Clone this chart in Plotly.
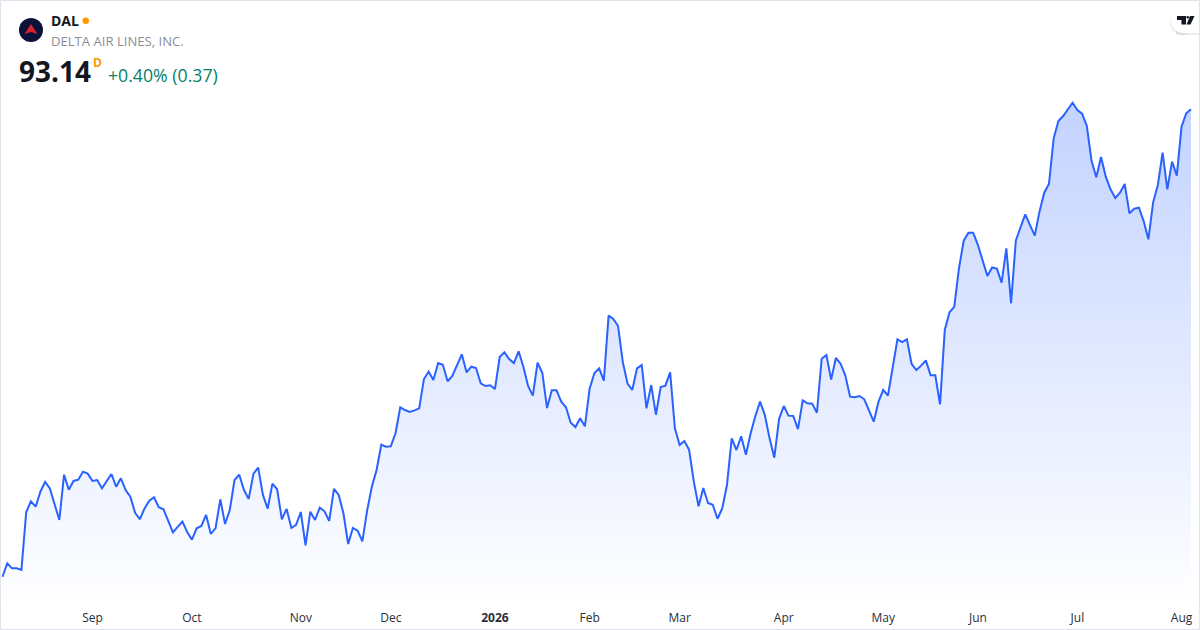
import plotly.graph_objects as go

# daily closes
close = [
    53.41, 54.55, 54.12, 54.12, 53.98, 58.88, 59.82, 59.36, 60.64, 61.46,
    60.92, 59.51, 58.23, 62.08, 60.81, 61.55, 61.66, 62.34, 62.17, 61.55,
    61.63, 60.92, 61.57, 62.14, 61.06, 61.77, 60.78, 60.21, 58.85, 58.29,
    59.22, 59.87, 60.16, 59.31, 59.14, 58.15, 57.18, 57.64, 58.09, 57.21,
    56.56, 57.52, 57.72, 58.66, 57.04, 57.55, 59.99, 57.89, 59.08, 61.63,
    62.08, 60.78, 60.02, 62.17, 62.68, 60.36, 59.19, 61.32, 60.84, 58.29,
    59.17, 57.55, 57.81, 58.91, 56.08, 58.94, 58.23, 59.28, 58.97, 58.15,
    60.87, 60.36, 58.80, 56.19, 57.55, 57.32, 56.42, 59.02, 61.06, 62.48,
    64.63, 64.46, 64.49, 65.60, 67.81, 67.58, 67.41, 67.55, 67.72, 70.21,
    70.84, 70.13, 71.57, 71.43, 70.02, 70.47, 71.35, 72.31, 70.78, 71.26,
    71.15, 69.85, 69.62, 69.68, 69.36, 72.08, 72.48, 71.91, 71.57, 72.57,
    71.26, 69.62, 68.80, 71.60, 70.75, 67.75, 69.25, 69.25, 68.29, 67.81,
    66.50, 66.13, 66.87, 66.19, 69.42, 70.70, 71.12, 70.07, 75.60, 75.31,
    74.72, 71.66, 69.82, 69.28, 71.12, 71.40, 67.72, 69.70, 67.18, 69.53,
    69.65, 70.78, 66.02, 64.60, 64.94, 64.21, 61.49, 59.39, 60.95, 59.67,
    59.53, 58.34, 59.22, 61.20, 65.17, 64.18, 65.34, 63.78, 65.60, 67.07,
    68.29, 67.15, 65.17, 63.53, 66.81, 67.92, 67.10, 67.07, 65.96, 68.40,
    68.15, 68.12, 67.35, 71.94, 72.25, 70.16, 72.00, 71.52, 70.50, 68.71,
    68.66, 68.77, 68.49, 67.58, 66.59, 68.29, 69.28, 68.80, 71.12, 73.59,
    73.36, 73.59, 71.49, 70.98, 71.35, 71.80, 70.53, 70.53, 68.06, 74.38,
    75.89, 76.35, 79.63, 81.97, 82.65, 82.65, 81.60, 80.19, 78.97, 79.69,
    79.59, 78.40, 81.32, 76.65, 81.97, 83.11, 84.21, 83.30, 82.40, 84.44,
    86.05, 86.79, 90.67, 92.14, 92.57, 93.14, 93.70, 93.08, 92.77, 91.72,
    88.74, 87.36, 89.08, 87.41, 86.34, 85.60, 86.05, 86.79, 84.30, 84.69,
    84.78, 83.64, 82.09, 85.23, 86.70, 89.45, 86.34, 88.69, 87.50, 91.66,
    92.80, 93.14,
]
session = list(range(len(close)))

tick_session = [19, 40, 63, 82, 104, 124, 143, 165, 186, 206, 227, 249]
tick_label = ["Sep", "Oct", "Nov", "Dec", "<b>2026</b>", "Feb", "Mar", "Apr", "May", "Jun", "Jul", "Aug"]

LINE = "#2962ff"
FONT = "Open Sans"

fig = go.Figure()
fig.add_trace(go.Scatter(
    x=session, y=close, mode="lines",
    line=dict(color=LINE, width=2, shape="linear"),
    fill="tozeroy",
    fillgradient=dict(
        type="vertical", start=93.7, stop=50.75,
        colorscale=[[0, "rgba(41,98,255,0.28)"], [1, "rgba(41,98,255,0)"]],
    ),
    hoverinfo="skip",
))

fig.update_xaxes(
    range=[-0.528, 252.9], tickmode="array", tickvals=tick_session, ticktext=tick_label,
    showgrid=False, zeroline=False, showline=False, ticks="", ticklabelstandoff=1,
    tickfont=dict(family=FONT, size=12, color="#2a2e39"),
)
fig.update_yaxes(range=[50.75, 102.43], showgrid=False, zeroline=False, showline=False, showticklabels=False)


# paper coordinates run over the plot area only, which stops 22px above the page bottom
def px_x(v):
    return v / 1200


def px_y(v):
    return 1 - v / 608


def paper_text(x, y, text, size, color, anchor="left"):
    fig.add_annotation(
        xref="paper", yref="paper", x=px_x(x), y=px_y(y), text=text, showarrow=False,
        xanchor=anchor, yanchor="middle", align="left", xshift=-2,
        font=dict(family=FONT, size=size, color=color),
    )


paper_text(51, 21, "<b>DAL</b>", 14, "#131722")
paper_text(51, 40.5, "DELTA AIR LINES, INC.", 13.1, "#8a8e97")
paper_text(19, 71, "<b>93.14</b>", 28, "#131722")
paper_text(93, 62, "<b>D</b>", 12, "#ff9800")
paper_text(108, 75, "+0.40% (0.37)", 17.7, "#067f6b")


def px_path(*points):
    # points are page pixels, closed polygon
    corners = [f"{px_x(x):.5f},{px_y(y):.5f}" for x, y in points]
    return "M " + " L ".join(corners) + " Z"


shapes = [
    # card border
    dict(type="rect", x0=px_x(0.5), x1=px_x(1199.5), y0=px_y(0.5), y1=px_y(629.5), line=dict(color="#e0e3eb", width=1)),
    # market status dot
    dict(type="circle", x0=px_x(82.5), x1=px_x(89), y0=px_y(17.5), y1=px_y(24), fillcolor="#ff9800", line_width=0),
    # logo
    dict(type="circle", x0=px_x(19), x1=px_x(43), y0=px_y(18), y1=px_y(42), fillcolor="#0b1238", line_width=0),
    dict(type="path", path=px_path((31, 24), (37.5, 34), (31, 32), (24.5, 34)), fillcolor="#d8232f", line_width=0),
    # watermark pill with soft shadow
    dict(type="rect", x0=px_x(1176), x1=px_x(1199), y0=px_y(10), y1=px_y(35), fillcolor="rgba(0,0,0,0.07)", line_width=0),
    dict(type="circle", x0=px_x(1170), x1=px_x(1195), y0=px_y(10), y1=px_y(35), fillcolor="rgba(0,0,0,0.07)", line_width=0),
    dict(type="rect", x0=px_x(1183), x1=px_x(1199), y0=px_y(8), y1=px_y(33), fillcolor="#ffffff", line_width=0),
    dict(type="circle", x0=px_x(1171), x1=px_x(1196), y0=px_y(8), y1=px_y(33), fillcolor="#ffffff", line_width=0),
    # tv mark
    dict(type="path", path=px_path((1177, 16), (1186, 16), (1186, 24.5), (1181.5, 24.5), (1181.5, 20), (1177, 20)), fillcolor="#131722", line_width=0),
    dict(type="circle", x0=px_x(1186.5), x1=px_x(1189), y0=px_y(16), y1=px_y(18.5), fillcolor="#131722", line_width=0),
    dict(type="path", path=px_path((1190, 16), (1194.5, 16), (1190.5, 24.5), (1186.5, 24.5)), fillcolor="#131722", line_width=0),
]
for s in shapes:
    s.update(xref="paper", yref="paper")

fig.update_layout(
    shapes=shapes, showlegend=False, width=1200, height=630,
    margin=dict(l=0, r=0, t=0, b=22, autoexpand=False), paper_bgcolor="#ffffff", plot_bgcolor="#ffffff",
)

fig.write_html("out.html", config={"displayModeBar": False},
               post_script="document.body.style.margin='0';document.body.style.overflow='hidden';")
